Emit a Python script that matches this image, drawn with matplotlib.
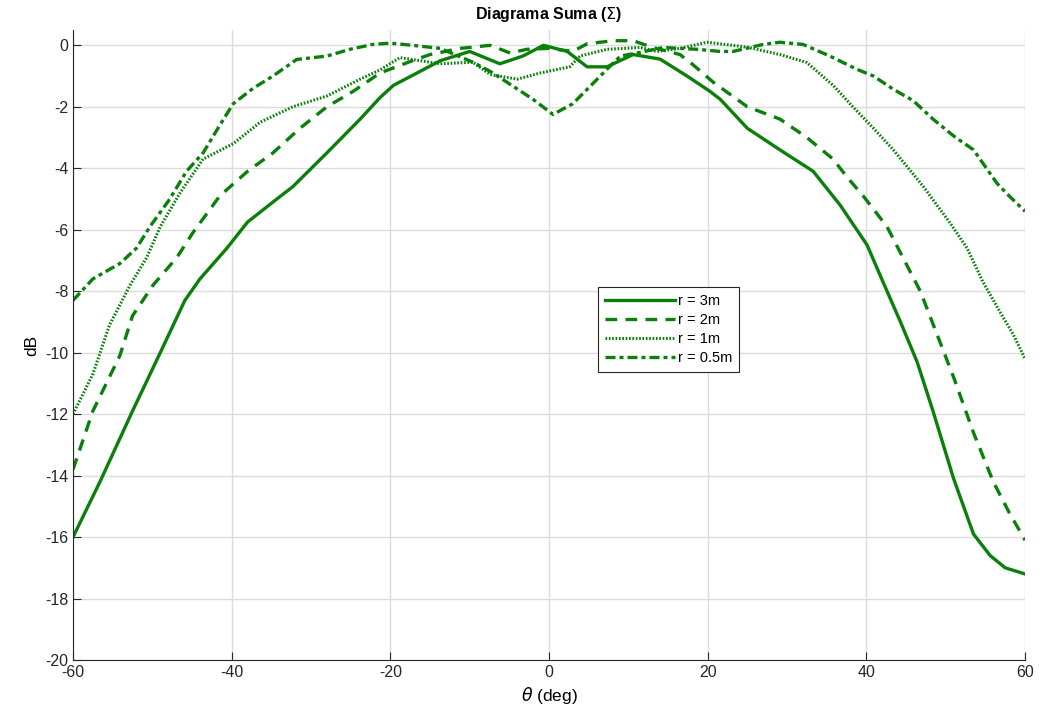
import matplotlib
matplotlib.use("Agg")
import matplotlib.pyplot as plt

plt.rcParams['font.family'] = ['Liberation Sans', 'DejaVu Sans']
plt.rcParams['axes.unicode_minus'] = False

# ---- data (theta in deg, level in dB) ----
theta_3m = [-60, -56.6, -52.5, -49, -45.9, -44, -40.6, -38, -34.8, -32.3, -28, -23.8,
            -21.3, -19.6, -17, -13.7, -10, -6.2, -3.3, -0.7, 2.3, 4.8, 7.3, 10.6, 14,
            17.4, 20.3, 21.6, 25, 29.1, 33.3, 36.7, 40.1, 42.1, 44.3, 46.4, 48.4, 51,
            53.5, 55.6, 57.5, 60]
db_3m = [-16, -14.2, -11.9, -10.0, -8.3, -7.6, -6.6, -5.75, -5.1, -4.6, -3.5, -2.4,
         -1.7, -1.3, -0.95, -0.5, -0.2, -0.6, -0.35, 0, -0.2, -0.7, -0.7, -0.3, -0.45,
         -1.0, -1.5, -1.76, -2.7, -3.4, -4.1, -5.2, -6.5, -7.7, -9.0, -10.3, -11.9, -14.1,
         -15.9, -16.6, -17.0, -17.2]

theta_2m = [-60, -57.5, -54.1, -52.5, -49.9, -46.9, -44.9, -41.5, -38, -34.8, -31.4, -28,
            -24.7, -21.3, -17.2, -15, -11.2, -7.4, -4.9, -2.8, 0, 3, 4.8, 8.1, 10.6, 13.1,
            16.5, 18, 20.7, 25, 29.1, 32.5, 35.8, 37.6, 39.6, 42.6, 44.6, 46.8, 48.9, 51,
            53.5, 56, 58, 60]
db_2m = [-13.8, -11.9, -10.1, -8.8, -7.8, -6.9, -6.1, -4.9, -4.1, -3.5, -2.7, -2.0,
         -1.5, -0.9, -0.5, -0.3, -0.1, 0, -0.25, -0.13, -0.1, -0.2, 0.05, 0.15, 0.15, -0.07,
         -0.3, -0.6, -1.2, -2.0, -2.4, -3.0, -3.7, -4.3, -4.9, -5.9, -6.9, -8.0, -9.4, -10.8,
         -12.6, -14.2, -15.2, -16.1]

theta_1m = [-60, -57.5, -55.4, -52.8, -50.7, -49, -46.5, -43.6, -39.8, -36.4, -32.3, -28,
            -23.8, -21.3, -18.8, -13.7, -9.6, -7.4, -4, -1.1, 2.6, 3.9, 7.3, 11.5, 13.6,
            16.5, 19.9, 25, 29.1, 32.5, 35.8, 38.3, 40.9, 43.4, 47.2, 50.6, 52.7, 54.7,
            56.9, 58.5, 60]
db_1m = [-12, -10.7, -9.1, -7.8, -6.9, -5.9, -4.8, -3.7, -3.2, -2.5, -2.0, -1.65,
         -1.1, -0.8, -0.4, -0.6, -0.55, -0.95, -1.1, -0.9, -0.7, -0.35, -0.13, -0.07, -0.2,
         -0.1, 0.1, -0.06, -0.3, -0.56, -1.3, -2.0, -2.7, -3.4, -4.6, -5.8, -6.6, -7.7,
         -8.7, -9.4, -10.2]

theta_05m = [-60, -57.5, -54.1, -52, -50.3, -47.8, -45.7, -43.6, -41.5, -39.8, -37.3, -34.8,
             -31.8, -28, -25.1, -22.2, -20, -17.2, -13.7, -9.6, -7.4, -5.3, -2, 0.5, 3,
             5.2, 7.3, 9, 11.5, 14.4, 18.7, 21.6, 23.2, 27, 29.1, 32, 35.4, 38.8, 40.9,
             43.4, 45.9, 48.4, 51, 53.5, 56.5, 58, 60]
db_05m = [-8.3, -7.6, -7.1, -6.6, -5.9, -5.0, -4.1, -3.5, -2.6, -1.9, -1.4, -1.0,
          -0.46, -0.35, -0.13, 0.03, 0.07, 0, -0.1, -0.55, -0.85, -1.2, -1.76, -2.25, -1.9,
          -1.33, -0.78, -0.35, -0.23, -0.07, -0.13, -0.2, -0.2, 0.03, 0.1, 0.03, -0.35, -0.78,
          -1.0, -1.43, -1.8, -2.4, -2.95, -3.4, -4.5, -4.9, -5.4]

labels = ['r = 3m', 'r = 2m', 'r = 1m', 'r = 0.5m']
green = '#0a800a'

fig = plt.figure(figsize=(10.4, 7.13), dpi=100)
ax = fig.add_axes([0.0702, 0.0743, 0.9154, 0.8837])

ax.plot(theta_3m, db_3m, color=green, lw=2.4, label=labels[0])
ax.plot(theta_2m, db_2m, color=green, lw=2.4, dashes=(3.5, 2.5), label=labels[1])
ax.plot(theta_1m, db_1m, color=green, lw=2.2, dashes=(0.55, 0.55), label=labels[2])
ax.plot(theta_05m, db_05m, color=green, lw=2.4, dashes=(3.0, 1.2, 1.2, 1.2), label=labels[3])

ax.set_xlim(-60, 60)
ax.set_ylim(-20, 0.5)
ax.set_xticks(range(-60, 61, 20))
ax.set_yticks(range(-20, 1, 2))
ax.grid(True, color='#dcdcdc', lw=1)
ax.set_axisbelow(True)
ax.tick_params(direction='in', length=6, labelsize=11.5, colors='#262626')
for s in ['top', 'right']:
    ax.spines[s].set_visible(False)
for s in ['left', 'bottom']:
    ax.spines[s].set_color('#262626')

ax.set_title('Diagrama Suma ($\\Sigma$)', fontsize=11.5, fontweight='bold', pad=8)
ax.set_xlabel(r'$\theta$ (deg)', fontsize=12.5)
ax.set_ylabel('dB', fontsize=12.5)

leg = ax.legend(loc='lower left', bbox_to_anchor=(0.544, 0.446), fontsize=10.5,
                fancybox=False, framealpha=1, edgecolor='#262626',
                handlelength=4.8, handletextpad=0.2, borderpad=0.45, labelspacing=0.35)
leg.get_frame().set_linewidth(0.8)

fig.savefig('out.png', dpi=100)
